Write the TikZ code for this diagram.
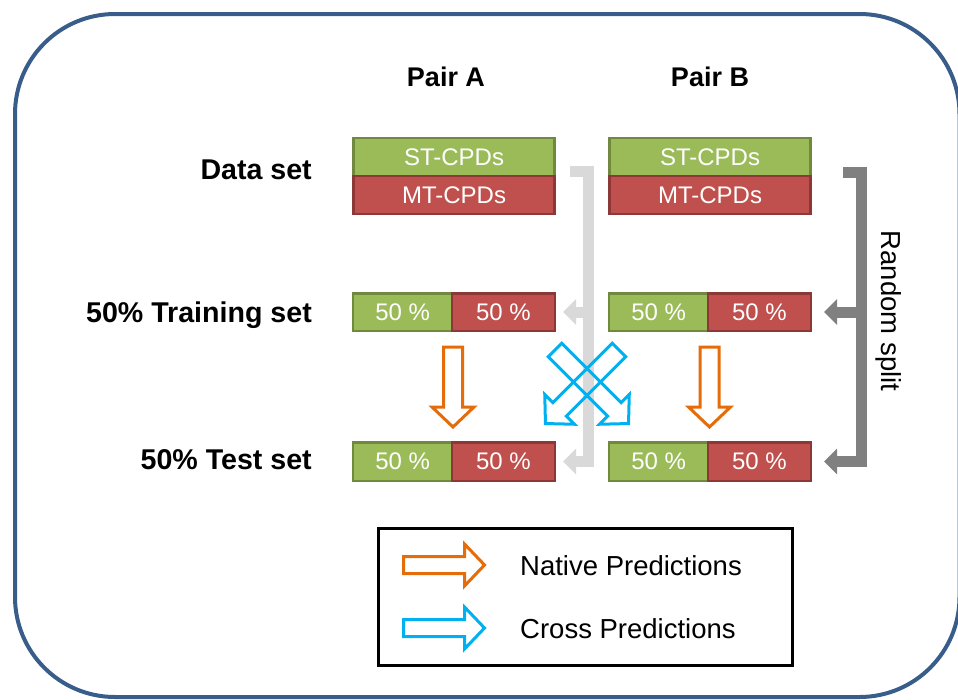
\documentclass[tikz,border=0pt]{standalone}
\usepackage{fontspec}
\setmainfont{Liberation Sans}
\usetikzlibrary{arrows.meta}
\definecolor{gfill}{RGB}{155,187,89}
\definecolor{gline}{RGB}{113,137,63}
\definecolor{rfill}{RGB}{192,80,77}
\definecolor{rline}{RGB}{140,56,54}
\definecolor{frameblue}{RGB}{56,93,138}
\definecolor{lgray}{RGB}{217,217,217}
\definecolor{dgray}{RGB}{128,128,128}
\definecolor{natorange}{RGB}{228,108,10}
\definecolor{crossblue}{RGB}{0,176,240}
\newcommand\blockarrow[5]{%
  \begin{scope}[shift={#2}, rotate=#3]
    \draw[#1] (0,-#5) -- ({#4-20},-#5) -- ({#4-20},-21) -- (#4,0) -- ({#4-20},21) -- ({#4-20},#5) -- (0,#5) -- cycle;
  \end{scope}}
\begin{document}
\begin{tikzpicture}[x=1pt,y=-1pt,
  cellbase/.style={inner sep=0pt, line width=2.5pt, text=white, font=\fontsize{24}{28}\selectfont},
  gcell/.style={cellbase, draw=gline, fill=gfill},
  rcell/.style={cellbase, draw=rline, fill=rfill},
  rowlabel/.style={anchor=base east, inner sep=0pt, font=\fontsize{28.6}{32}\selectfont\bfseries},
  pairlabel/.style={anchor=base, inner sep=0pt, font=\fontsize{27}{32}\selectfont\bfseries},
  legtext/.style={anchor=base west, inner sep=0pt, font=\fontsize{27.5}{32}\selectfont},
  lgbar/.style={draw=lgray, line width=11pt, line join=miter},
  dgbar/.style={draw=dgray, line width=11pt, line join=miter},
  nat/.style={draw=natorange, line width=3pt, line join=miter},
  crs/.style={draw=crossblue, line width=3pt, line join=miter},
  tip/.style={-{Triangle[length=13pt,width=25pt]}}
]
\useasboundingbox (0,0) rectangle (958,699);
% outer frame
\draw[frameblue, line width=4pt, rounded corners=100pt] (15,14) rectangle (959.5,697);

% labels
\node[pairlabel] (pairA) at (446,86) {Pair A};
\node[pairlabel] (pairB) at (710,86) {Pair B};
\node[rowlabel] (ldata) at (312,179) {Data set};
\node[rowlabel] (ltrain) at (312,322) {50\% Training set};
\node[rowlabel] (ltest) at (312,469) {50\% Test set};

% data set boxes
\node[gcell, minimum width=201pt, minimum height=38pt] (dsA) at (454,157) {ST-CPDs};
\node[rcell, minimum width=201pt, minimum height=38pt] (dmA) at (454,195) {MT-CPDs};
\node[gcell, minimum width=201pt, minimum height=38pt] (dsB) at (710,157) {ST-CPDs};
\node[rcell, minimum width=201pt, minimum height=38pt] (dmB) at (710,195) {MT-CPDs};

% training boxes
\node[gcell, minimum width=98.75pt, minimum height=37.5pt] (trAg) at (402.6,312) {50 \%};
\node[rcell, minimum width=102.75pt, minimum height=37.5pt] (trAr) at (503.4,312) {50 \%};
\node[gcell, minimum width=98.75pt, minimum height=37.5pt] (trBg) at (658.6,312) {50 \%};
\node[rcell, minimum width=102.75pt, minimum height=37.5pt] (trBr) at (759.4,312) {50 \%};

% test boxes
\node[gcell, minimum width=98.75pt, minimum height=38.5pt] (teAg) at (402.6,461.5) {50 \%};
\node[rcell, minimum width=102.75pt, minimum height=38.5pt] (teAr) at (503.4,461.5) {50 \%};
\node[gcell, minimum width=98.75pt, minimum height=38.5pt] (teBg) at (658.6,461.5) {50 \%};
\node[rcell, minimum width=102.75pt, minimum height=38.5pt] (teBr) at (759.4,461.5) {50 \%};

% light gray bracket (pair A)
\coordinate (lgtop) at (570,171.5);
\coordinate (lgcorner) at (588,171.5);
\coordinate (lgmid) at (588,312);
\coordinate (lgbot) at (588,461.5);
\draw[lgbar, tip, shorten >=7pt] (lgtop) -- (lgcorner) -- (lgbot) -- (teAr.east);
\draw[lgbar, tip, shorten >=7pt] (lgmid) -- (trAr.east);

% dark gray bracket (pair B)
\coordinate (dgtop) at (843,172);
\coordinate (dgcorner) at (861,172);
\coordinate (dgmid) at (861,312);
\coordinate (dgbot) at (861,461.5);
\draw[dgbar, tip, shorten >=12pt] (dgtop) -- (dgcorner) -- (dgbot) -- (teBr.east);
\draw[dgbar, tip, shorten >=12pt] (dgmid) -- (trBr.east);
\node[rotate=-90, inner sep=0pt, font=\fontsize{27.5}{32}\selectfont] (rsplit) at (889,311) {Random split};

% native prediction arrows
\blockarrow{nat}{(453,347)}{-90}{80}{9.5}
\blockarrow{nat}{(709.5,347)}{-90}{80}{9.5}

% cross prediction arrows
\blockarrow{crs}{(555,350)}{-45}{104}{9.5}
\blockarrow{crs}{(619,350)}{-135}{104}{9.5}

% legend
\node[draw, line width=3pt, minimum width=414pt, minimum height=137pt, inner sep=0pt] (legend) at (585.5,597) {};
\blockarrow{nat}{(403.5,565)}{0}{81}{8.5}
\blockarrow{crs}{(403.5,628)}{0}{81}{8.5}
\node[legtext] (lnat) at (520,575) {Native Predictions};
\node[legtext] (lcrs) at (520,638) {Cross Predictions};
\end{tikzpicture}
\end{document}
